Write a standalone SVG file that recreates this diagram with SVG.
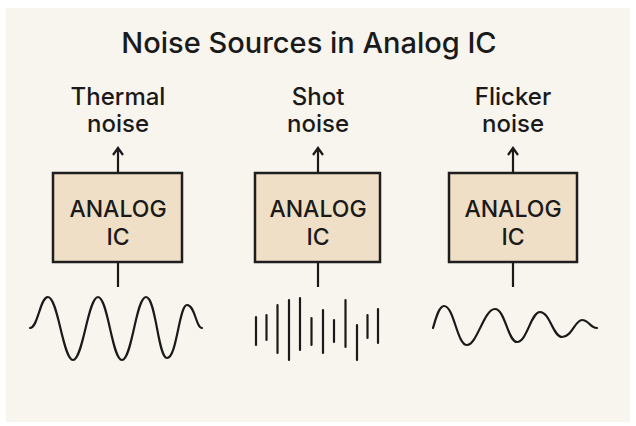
<svg xmlns="http://www.w3.org/2000/svg" width="636" height="426" viewBox="0 0 636 426">
<style>
.t{font-family:Inter,"Liberation Sans",sans-serif;fill:#1a1a1a;text-anchor:middle}
.lbl{font-size:24px;font-weight:500}
.bl{font-size:23px;font-weight:500}
.box{fill:#efdfc6;stroke:#1e1e1e;stroke-width:2.5}
.ln{stroke:#1a1a1a;stroke-width:2.2;fill:none}
.w{stroke:#1a1a1a;stroke-width:2.2;fill:none;stroke-linecap:round}
</style>
<rect width="636" height="426" fill="#fff"/>
<rect x="6" y="8" width="624" height="414" fill="#f8f4ee"/>
<text class="t" x="309" y="53" font-size="29" font-weight="500">Noise Sources in Analog IC</text>
<g id="thermal">
<text class="t lbl" x="118" y="105">Thermal</text><text class="t lbl" x="118" y="132">noise</text>
<rect class="box" x="53" y="173" width="129" height="89"/>
<text class="t bl" x="118" y="217">ANALOG</text><text class="t bl" x="118" y="245">IC</text>
<path class="w" d="M30,328 C38,328 40,297 48,297 C58,297 63,360 73,360 C83,360 88,297 98,297 C108,297 112,360 122,360 C132,360 136,297 146,297 C156,297 158,358 167,358 C177,358 179,305 187,305 C195,305 196,328 202,328"/>
</g>
<g id="shot">
<text class="t lbl" x="318" y="105">Shot</text><text class="t lbl" x="318" y="132">noise</text>
<rect class="box" x="255" y="173" width="125" height="89"/>
<text class="t bl" x="318" y="217">ANALOG</text><text class="t bl" x="318" y="245">IC</text>
<path class="w" d="M256,317V345M266.5,315V340M277.5,305V353M289,300V360M300,298V350M311.5,318V345M323,310V353M334,320V342M345.5,300V347M357,325V360M367.5,315V338M378,309V343"/>
</g>
<g id="flicker">
<text class="t lbl" x="513" y="105">Flicker</text><text class="t lbl" x="513" y="132">noise</text>
<rect class="box" x="449" y="173" width="128" height="89"/>
<text class="t bl" x="513" y="217">ANALOG</text><text class="t bl" x="513" y="245">IC</text>
<path class="w" d="M433,328 C436,318 439,306 444,306 C454,306 457,345 467,345 C477,345 484,309 495,309 C505,309 508,342 517,342 C527,342 531,312 540,312 C550,312 553,337 562,337 C572,337 575,320 582,320 C589,320 590,328 597,328"/>
</g>
<g id="connectors">
<path class="ln" d="M118,173V148M113,155L118,148L123,155"/>
<path class="ln" d="M318,173V148M313,155L318,148L323,155"/>
<path class="ln" d="M513,173V148M508,155L513,148L518,155"/>
<line class="ln" x1="118" y1="262" x2="118" y2="287"/>
<line class="ln" x1="318" y1="262" x2="318" y2="287"/>
<line class="ln" x1="513" y1="262" x2="513" y2="287"/>
</g>
</svg>
